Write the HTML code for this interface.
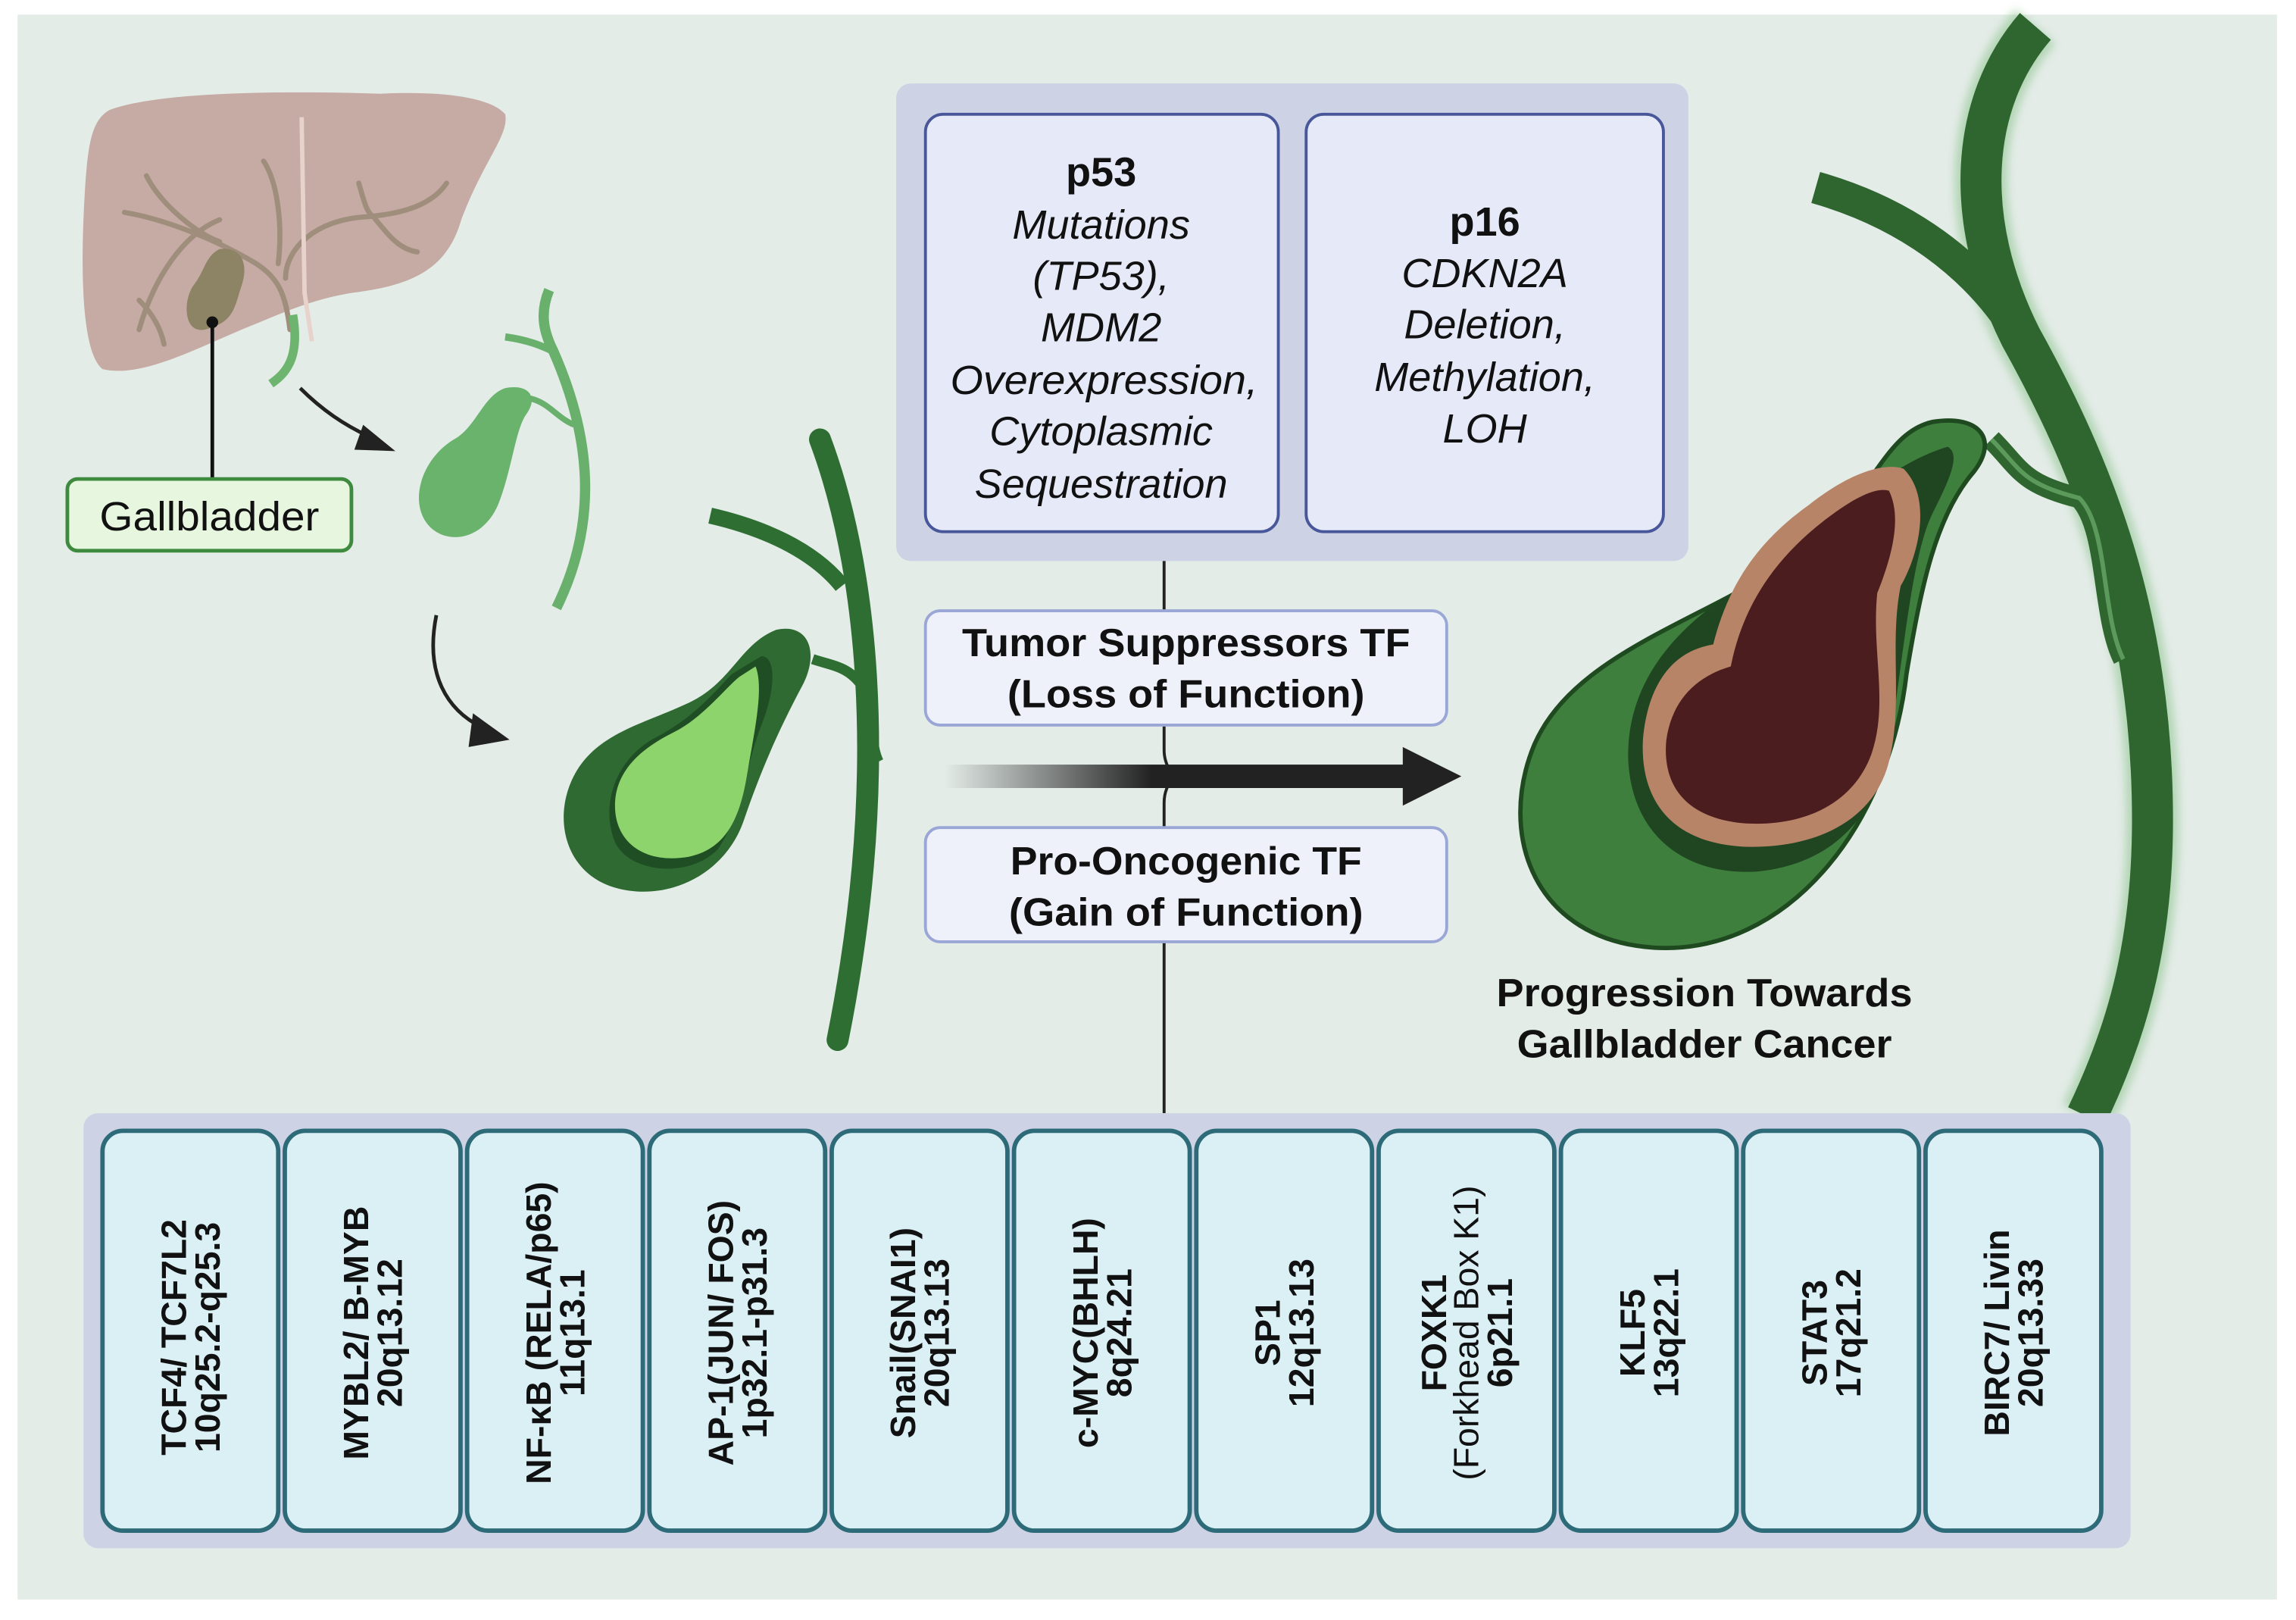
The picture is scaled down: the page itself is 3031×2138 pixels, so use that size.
<!DOCTYPE html>
<html><head><meta charset="utf-8"><style>
html,body{margin:0;padding:0;background:#fff;}
svg{display:block;}
text{font-family:"Liberation Sans",Arial,sans-serif;fill:#111;}
</style></head><body>
<svg width="3031" height="2138" viewBox="0 0 1568 1106" preserveAspectRatio="none" xmlns="http://www.w3.org/2000/svg">
<defs>
<linearGradient id="arr" x1="0" x2="1" y1="0" y2="0">
<stop offset="0" stop-color="#222" stop-opacity="0"/><stop offset="0.45" stop-color="#222" stop-opacity="1"/><stop offset="1" stop-color="#222"/>
</linearGradient>
<filter id="glow" x="-20%" y="-20%" width="140%" height="140%"><feGaussianBlur stdDeviation="3"/></filter>
</defs>
<rect x="12" y="10" width="1543" height="1082" fill="#e4ece8"/>

<!-- Liver -->
<path d="M75,75 C110,62 200,62 260,64 C300,62 335,66 345,78 C348,92 330,110 315,150 C305,185 280,195 240,200 C210,205 190,215 165,225 C130,240 95,258 70,252 C55,240 55,180 58,130 C60,100 62,82 75,75 Z" fill="#c6aaa4"/>
<g fill="none" stroke="#a08e7c" stroke-width="3.5" stroke-linecap="round">
<path d="M85,145 C115,150 150,165 175,180 C190,190 195,200 198,225"/>
<path d="M100,120 C110,140 135,160 150,165"/>
<path d="M180,110 C190,125 193,155 190,180"/>
<path d="M150,150 C125,160 105,190 95,225"/>
<path d="M95,205 C105,215 110,225 112,235"/>
<path d="M195,190 C195,170 215,150 250,148 C275,146 295,140 305,125"/>
<path d="M255,148 C265,160 272,170 285,172"/>
<path d="M245,125 C248,135 250,145 255,148"/>
</g>
<path d="M206,80 L208,200 L213,233" stroke="#e8d2cc" stroke-width="3" fill="none"/>
<path d="M200,215 C205,245 195,255 185,262" stroke="#6db56f" stroke-width="6" fill="none"/>
<path d="M150,170 C165,168 170,180 165,195 C160,210 160,220 140,225 C125,228 125,205 132,195 C140,185 140,175 150,170 Z" fill="#8d8466"/>
<circle cx="145" cy="220" r="4" fill="#111"/>
<line x1="145" y1="220" x2="145" y2="327" stroke="#111" stroke-width="2.5"/>
<rect x="46" y="327" width="194" height="49" rx="7" fill="#e7f6de" stroke="#3e8a3e" stroke-width="2.5"/>
<text x="143" y="362" font-size="28" text-anchor="middle" textLength="150" lengthAdjust="spacingAndGlyphs">Gallbladder</text>

<!-- arrows -->
<path d="M205,265 C220,280 235,290 252,298" stroke="#222" stroke-width="2.5" fill="none"/>
<path d="M248,290 L270,308 L242,307 Z" fill="#222"/>
<path d="M298,420 C290,460 305,485 330,497" stroke="#222" stroke-width="2.5" fill="none"/>
<path d="M323,487 L348,505 L320,510 Z" fill="#222"/>

<!-- gallbladder 2 -->
<path d="M375,198 C368,215 372,228 378,240 C400,290 412,350 380,415" stroke="#6ab06d" stroke-width="7" fill="none"/>
<path d="M345,230 C360,232 370,236 378,240" stroke="#6ab06d" stroke-width="5" fill="none"/>
<path d="M345,265 C360,262 368,270 360,282 C352,292 350,320 340,345 C328,372 300,372 290,355 C280,338 290,312 310,300 C325,292 330,270 345,265 Z" fill="#6ab36c"/>
<path d="M362,272 C375,275 380,285 392,290" stroke="#6ab06d" stroke-width="4" fill="none"/>

<!-- gallbladder 3 -->
<g>
<path d="M560,300 C590,380 610,520 572,710" stroke="#2f6e33" stroke-width="15" fill="none" stroke-linecap="round"/>
<path d="M485,352 C520,360 555,375 575,400" stroke="#2f6e33" stroke-width="11" fill="none"/>
<path d="M555,450 C570,455 580,455 590,470 C595,490 595,510 600,520" stroke="#2f6e33" stroke-width="7" fill="none"/>
<path d="M530,430 C552,425 560,445 548,468 C532,498 520,525 508,560 C495,598 455,616 420,606 C385,596 376,556 394,526 C410,500 440,494 470,480 C500,466 505,440 530,430 Z" fill="#2e6a32"/>
<path d="M520,448 C530,448 530,470 520,495 C510,520 505,560 490,580 C470,600 430,596 420,575 C410,550 420,520 445,505 C475,490 490,470 500,460 Z" fill="#1f4d24"/>
<path d="M516,455 C522,470 515,500 510,530 C505,560 495,580 470,585 C440,590 420,575 420,550 C420,525 440,510 460,500 C480,490 495,470 505,462 Z" fill="#8ed46c"/>
</g>

<!-- top panel -->
<rect x="612" y="57" width="541" height="326" rx="10" fill="#cdd3e5"/>
<rect x="632" y="78" width="241" height="285" rx="12" fill="#e6eaf8" stroke="#48579a" stroke-width="2"/>
<rect x="892" y="78" width="244" height="285" rx="12" fill="#e6eaf8" stroke="#48579a" stroke-width="2"/>
<g font-size="28" text-anchor="middle">
<text x="752" y="127" font-weight="bold">p53</text>
<text x="752" y="163" font-style="italic">Mutations</text>
<text x="752" y="198" font-style="italic">(TP53),</text>
<text x="752" y="233" font-style="italic">MDM2</text>
<text x="754" y="269" font-style="italic" textLength="210" lengthAdjust="spacingAndGlyphs">Overexpression,</text>
<text x="752" y="304" font-style="italic">Cytoplasmic</text>
<text x="752" y="340" font-style="italic">Sequestration</text>
<text x="1014" y="161" font-weight="bold">p16</text>
<text x="1014" y="196" font-style="italic">CDKN2A</text>
<text x="1014" y="231" font-style="italic">Deletion,</text>
<text x="1014" y="267" font-style="italic">Methylation,</text>
<text x="1014" y="302" font-style="italic">LOH</text>
</g>
<path d="M795,383 L795,512 Q795,522 802,530 Q795,538 795,548 L795,760" stroke="#222" stroke-width="2" fill="none"/>
<rect x="632" y="417" width="356" height="78" rx="10" fill="#eef1fa" stroke="#9aa7d6" stroke-width="2"/>
<rect x="632" y="565" width="356" height="78" rx="10" fill="#eef1fa" stroke="#9aa7d6" stroke-width="2"/>
<g font-size="27" font-weight="bold" text-anchor="middle">
<text x="810" y="448" textLength="306" lengthAdjust="spacingAndGlyphs">Tumor Suppressors TF</text>
<text x="810" y="483" textLength="244" lengthAdjust="spacingAndGlyphs">(Loss of Function)</text>
<text x="810" y="597" textLength="240" lengthAdjust="spacingAndGlyphs">Pro-Oncogenic TF</text>
<text x="810" y="632" textLength="242" lengthAdjust="spacingAndGlyphs">(Gain of Function)</text>
</g>
<rect x="645" y="522" width="315" height="16" fill="url(#arr)"/>
<path d="M958,510 L998,530 L958,550 Z" fill="#222"/>

<!-- big gallbladder -->
<g>
<path d="M1390,18 C1345,70 1340,150 1380,230 C1430,320 1470,420 1470,560 C1470,650 1450,710 1425,762" stroke="#7fbf7f" stroke-width="36" fill="none" opacity="0.5" filter="url(#glow)"/>
<path d="M1390,18 C1345,70 1340,150 1380,230 C1430,320 1470,420 1470,560 C1470,650 1450,710 1425,762" stroke="#2f6630" stroke-width="28" fill="none"/>
<path d="M1240,128 C1300,145 1350,180 1380,230" stroke="#2f6630" stroke-width="22" fill="none"/>
<path d="M1360,300 C1380,320 1380,330 1420,340 C1440,360 1435,420 1450,450" stroke="#2f6630" stroke-width="14" fill="none"/>
<path d="M1360,300 C1380,320 1380,330 1420,340 C1440,360 1435,420 1450,450" stroke="#5c9a5c" stroke-width="3" fill="none"/>
<path d="M1320,288 C1352,283 1365,300 1348,322 C1322,352 1312,400 1302,460 C1290,565 1220,652 1130,647 C1048,642 1022,570 1048,508 C1078,440 1180,420 1240,370 C1280,335 1288,295 1320,288 Z" fill="#3e7f3e"/>
<path d="M1320,288 C1352,283 1365,300 1348,322 C1322,352 1312,400 1302,460 C1290,565 1220,652 1130,647 C1048,642 1022,570 1048,508 C1078,440 1180,420 1240,370 C1280,335 1288,295 1320,288 Z" fill="none" stroke="#1f4a20" stroke-width="3"/>
<path d="M1330,305 C1340,310 1330,330 1320,350 C1305,380 1300,450 1290,510 C1280,560 1250,590 1200,595 C1150,598 1115,570 1112,520 C1110,470 1140,430 1190,400 C1240,370 1280,320 1330,305 Z" fill="#1f4620"/>
<path d="M1300,320 C1320,340 1310,380 1298,400 C1290,440 1300,480 1290,520 C1280,560 1240,580 1190,578 C1140,575 1120,545 1122,505 C1125,470 1140,445 1170,440 C1180,400 1200,370 1235,345 C1260,325 1285,315 1300,320 Z" fill="#b88468"/>
<path d="M1290,335 C1300,355 1290,385 1282,405 C1278,445 1290,480 1278,515 C1265,550 1230,565 1190,562 C1150,558 1135,535 1138,505 C1142,478 1158,462 1182,455 C1190,415 1210,385 1240,360 C1262,342 1280,332 1290,335 Z" fill="#4b1d1f"/>
</g>
<g font-size="27" font-weight="bold" text-anchor="middle">
<text x="1164" y="687" textLength="284" lengthAdjust="spacingAndGlyphs">Progression Towards</text>
<text x="1164" y="722" textLength="256" lengthAdjust="spacingAndGlyphs">Gallbladder Cancer</text>
</g>

<!-- bottom panel -->
<rect x="57" y="760" width="1398" height="297" rx="10" fill="#cdd3e5"/>
<g fill="#daf0f5" stroke="#2e6b78" stroke-width="3">
<rect x="70" y="772" width="120" height="273" rx="14"/>
<rect x="194.5" y="772" width="120" height="273" rx="14"/>
<rect x="319" y="772" width="120" height="273" rx="14"/>
<rect x="443.5" y="772" width="120" height="273" rx="14"/>
<rect x="568" y="772" width="120" height="273" rx="14"/>
<rect x="692.5" y="772" width="120" height="273" rx="14"/>
<rect x="817" y="772" width="120" height="273" rx="14"/>
<rect x="941.5" y="772" width="120" height="273" rx="14"/>
<rect x="1066" y="772" width="120" height="273" rx="14"/>
<rect x="1190.5" y="772" width="120" height="273" rx="14"/>
<rect x="1315" y="772" width="120" height="273" rx="14"/>
</g>
<g font-size="24" font-weight="bold" text-anchor="middle">
<text transform="translate(130,913) rotate(-90)"><tspan x="0" y="-3">TCF4/ TCF7L2</tspan><tspan x="0" y="20">10q25.2-q25.3</tspan></text>
<text transform="translate(254.5,910) rotate(-90)"><tspan x="0" y="-3">MYBL2/ B-MYB</tspan><tspan x="0" y="20">20q13.12</tspan></text>
<text transform="translate(379,910) rotate(-90)"><tspan x="0" y="-3">NF-κB (RELA/p65)</tspan><tspan x="0" y="20">11q13.1</tspan></text>
<text transform="translate(503.5,910) rotate(-90)"><tspan x="0" y="-3">AP-1(JUN/ FOS)</tspan><tspan x="0" y="20">1p32.1-p31.3</tspan></text>
<text transform="translate(628,910) rotate(-90)"><tspan x="0" y="-3">Snail(SNAI1)</tspan><tspan x="0" y="20">20q13.13</tspan></text>
<text transform="translate(752.5,910) rotate(-90)"><tspan x="0" y="-3">c-MYC(BHLH)</tspan><tspan x="0" y="20">8q24.21</tspan></text>
<text transform="translate(877,910) rotate(-90)"><tspan x="0" y="-3">SP1</tspan><tspan x="0" y="20">12q13.13</tspan></text>
<text transform="translate(1001.5,910) rotate(-90)"><tspan x="0" y="-14">FOXK1</tspan><tspan x="0" y="8" font-weight="normal">(Forkhead Box K1)</tspan><tspan x="0" y="31">6p21.1</tspan></text>
<text transform="translate(1126,910) rotate(-90)"><tspan x="0" y="-3">KLF5</tspan><tspan x="0" y="20">13q22.1</tspan></text>
<text transform="translate(1250.5,910) rotate(-90)"><tspan x="0" y="-3">STAT3</tspan><tspan x="0" y="20">17q21.2</tspan></text>
<text transform="translate(1375,910) rotate(-90)"><tspan x="0" y="-3">BIRC7/ Livin</tspan><tspan x="0" y="20">20q13.33</tspan></text>
</g>
</svg>
</body></html>
